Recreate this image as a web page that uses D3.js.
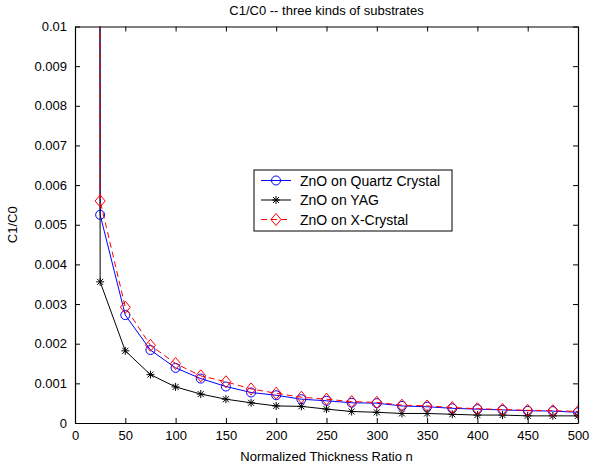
<!DOCTYPE html>
<html>
<head>
<meta charset="utf-8">
<script src="https://cdn.jsdelivr.net/npm/d3@7"></script>
<style>
  body { margin: 0; background: #fff; }
  text { font-family: "Liberation Sans", Arial, sans-serif; }
</style>
</head>
<body>
<svg width="592" height="469"></svg>
<script>
// thickness ratio n (first point is far above the y range, only its line shows)
const nValues = [1, 25, 50, 75, 100, 125, 150, 175, 200, 225, 250, 275, 300, 325, 350, 375, 400, 425, 450, 475, 500];
const quartz = [1, 0.00525, 0.00272, 0.00184, 0.00139, 0.00112, 0.00092, 0.00077, 0.0007, 0.0006, 0.00056, 0.00051, 0.0005, 0.00043, 0.00041, 0.00037, 0.00035, 0.00033, 0.00031, 0.0003, 0.00027];
const yag = [1, 0.00356, 0.00182, 0.00122, 0.00091, 0.00073, 0.0006, 0.00051, 0.00043, 0.00042, 0.00035, 0.00029, 0.00027, 0.00024, 0.00024, 0.00022, 0.0002, 0.0002, 0.00018, 0.00018, 0.00018];
const xcrystal = [1, 0.0056, 0.00292, 0.00196, 0.0015, 0.00119, 0.00104, 0.00086, 0.00075, 0.00065, 0.0006, 0.00054, 0.00052, 0.00045, 0.00043, 0.00039, 0.00036, 0.00034, 0.00032, 0.00031, 0.00029];
const xTicks = [0, 50, 100, 150, 200, 250, 300, 350, 400, 450, 500];
const yTicks = [0, 0.001, 0.002, 0.003, 0.004, 0.005, 0.006, 0.007, 0.008, 0.009, 0.01];
const seriesNames = ["ZnO on Quartz Crystal", "ZnO on YAG", "ZnO on X-Crystal"];

const plotLeft = 75, plotRight = 578, plotTop = 26.5, plotBottom = 423;

const svg = d3.select("svg");

const x = d3.scaleLinear().domain([0, 500]).range([plotLeft, plotRight]);
const y = d3.scaleLinear().domain([0, 0.01]).range([plotBottom, plotTop]);

svg.append("clipPath").attr("id", "plotclip")
    .append("rect")
    .attr("x", plotLeft).attr("y", plotTop)
    .attr("width", plotRight - plotLeft).attr("height", plotBottom - plotTop);

// axes box with inward ticks on all sides
const tickLen = 5;
svg.append("g").attr("transform", `translate(0,${plotBottom})`)
    .call(d3.axisBottom(x).tickValues(xTicks).tickSizeInner(-tickLen).tickSizeOuter(0).tickPadding(8).tickFormat(d3.format("d")));
svg.append("g").attr("transform", `translate(0,${plotTop})`)
    .call(d3.axisTop(x).tickValues(xTicks).tickSizeInner(-tickLen).tickSizeOuter(0).tickFormat(""));
svg.append("g").attr("transform", `translate(${plotLeft},0)`)
    .call(d3.axisLeft(y).tickValues(yTicks).tickSizeInner(-tickLen).tickSizeOuter(0).tickPadding(8).tickFormat(d => d === 0 ? "0" : String(+d.toFixed(3))));
svg.append("g").attr("transform", `translate(${plotRight},0)`)
    .call(d3.axisRight(y).tickValues(yTicks).tickSizeInner(-tickLen).tickSizeOuter(0).tickFormat(""));

svg.selectAll(".domain").attr("stroke", "#000").attr("stroke-width", 1.2);
svg.selectAll(".tick line").attr("stroke", "#000");
svg.selectAll(".tick text").attr("font-size", 13).attr("fill", "#000")
    .attr("font-family", "'Liberation Sans', Arial, sans-serif");

// titles
svg.append("text").attr("x", (plotLeft + plotRight) / 2).attr("y", 15)
    .attr("text-anchor", "middle").attr("font-size", 13)
    .text("C1/C0 -- three kinds of substrates");
svg.append("text").attr("x", (plotLeft + plotRight) / 2).attr("y", 461)
    .attr("text-anchor", "middle").attr("font-size", 13)
    .text("Normalized Thickness Ratio n");
svg.append("text").attr("transform", `translate(17,${(plotTop + plotBottom) / 2}) rotate(-90)`)
    .attr("text-anchor", "middle").attr("font-size", 13)
    .text("C1/C0");

const line = d3.line().x((d, i) => x(nValues[i])).y(d => y(d));

const plot = svg.append("g").attr("clip-path", "url(#plotclip)");

const series = [
  { values: quartz, color: "#0000ff", dash: null, marker: "circle" },
  { values: yag, color: "#000000", dash: null, marker: "star" },
  { values: xcrystal, color: "#ff0000", dash: "6,4", marker: "diamond" }
];

function drawMarker(g, type, color) {
  if (type === "circle") {
    g.append("circle").attr("r", 4.5).attr("fill", "none").attr("stroke", color).attr("stroke-width", 1);
  } else if (type === "diamond") {
    g.append("path").attr("d", "M0,-6L5,0L0,6L-5,0Z").attr("fill", "none").attr("stroke", color).attr("stroke-width", 1);
  } else {
    g.append("path").attr("d", "M-4,0H4M0,-4V4M-3,-3L3,3M-3,3L3,-3").attr("stroke", color).attr("stroke-width", 1);
  }
}

series.forEach(s => {
  plot.append("path").datum(s.values)
      .attr("d", line)
      .attr("fill", "none")
      .attr("stroke", s.color)
      .attr("stroke-width", 1)
      .attr("stroke-dasharray", s.dash);
  s.values.forEach((v, i) => {
    if (v > 0.01) return;
    const g = plot.append("g").attr("transform", `translate(${x(nValues[i])},${y(v)})`);
    drawMarker(g, s.marker, s.color);
  });
});

// legend
const lg = svg.append("g").attr("transform", "translate(254,170)");
lg.append("rect").attr("width", 198).attr("height", 61)
    .attr("fill", "#fff").attr("stroke", "#000").attr("stroke-width", 1);
series.forEach((s, i) => {
  const ry = 10.5 + i * 19.5;
  lg.append("line").attr("x1", 7).attr("x2", 37).attr("y1", ry).attr("y2", ry)
      .attr("stroke", s.color).attr("stroke-width", 1).attr("stroke-dasharray", s.dash);
  drawMarker(lg.append("g").attr("transform", `translate(22,${ry})`), s.marker, s.color);
  lg.append("text").attr("x", 46).attr("y", ry + 5).attr("font-size", 14)
      .text(seriesNames[i]);
});
</script>
</body>
</html>
